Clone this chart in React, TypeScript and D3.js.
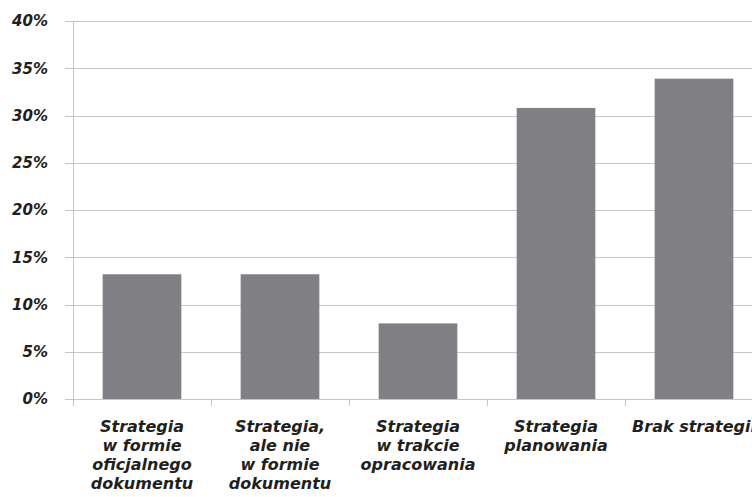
import React, { useEffect, useRef } from 'react';
import * as d3 from 'd3';

const categories = ['c1', 'c2', 'c3', 'c4', 'c5'];
const labels = [
  ['Strategia', 'w formie', 'oficjalnego', 'dokumentu'],
  ['Strategia,', 'ale nie', 'w formie', 'dokumentu'],
  ['Strategia', 'w trakcie', 'opracowania'],
  ['Strategia', 'planowania'],
  ['Brak strategii'],
];
const values = [13.2, 13.2, 8.0, 30.8, 33.9];
const yTicks = [0, 5, 10, 15, 20, 25, 30, 35, 40];

const App = () => {
  const ref = useRef<SVGSVGElement>(null);

  useEffect(() => {
    if (!ref.current) return;
    const svg = d3.select(ref.current);
    svg.selectAll('*').remove();

    const left = 73,
      right = 763,
      top = 21,
      bottom = 399;

    const x = d3.scaleBand().domain(categories).range([left, right]).paddingInner(0.43).paddingOuter(0.215);
    const band = d3.scaleBand().domain(categories).range([left, right]);
    const y = d3.scaleLinear().domain([0, 40]).range([bottom, top]);

    const font = "'DejaVu Sans', Verdana, sans-serif";
    const ink = '#231f20';

    // grid
    svg
      .selectAll('line.grid')
      .data(yTicks)
      .enter()
      .append('line')
      .attr('x1', left - 8)
      .attr('x2', 752)
      .attr('y1', (d) => Math.round(y(d)) + 0.5)
      .attr('y2', (d) => Math.round(y(d)) + 0.5)
      .attr('stroke', '#c6c6c6')
      .attr('stroke-width', 1);

    // y axis line
    svg
      .append('line')
      .attr('x1', left + 0.5)
      .attr('x2', left + 0.5)
      .attr('y1', top)
      .attr('y2', bottom + 7)
      .attr('stroke', '#c6c6c6');

    // category ticks
    svg
      .selectAll('line.ctick')
      .data(categories)
      .enter()
      .append('line')
      .attr('x1', (d) => Math.round(band(d)!) + 0.5)
      .attr('x2', (d) => Math.round(band(d)!) + 0.5)
      .attr('y1', bottom)
      .attr('y2', bottom + 7)
      .attr('stroke', '#c6c6c6');

    // bars
    svg
      .selectAll('rect.bar')
      .data(values)
      .enter()
      .append('rect')
      .attr('x', (d, i) => x(categories[i])!)
      .attr('y', (d) => y(d))
      .attr('width', x.bandwidth())
      .attr('height', (d) => bottom - y(d))
      .attr('fill', '#808084');

    // y labels
    svg
      .selectAll('text.ylab')
      .data(yTicks)
      .enter()
      .append('text')
      .attr('x', 48)
      .attr('y', (d) => y(d))
      .attr('dy', '0.36em')
      .attr('text-anchor', 'end')
      .attr('font-family', font)
      .attr('font-size', 15)
      .attr('font-weight', 'bold')
      .attr('font-style', 'italic')
      .attr('fill', ink)
      .text((d) => d + '%');

    // x labels
    categories.forEach((c, i) => {
      const cx = band(c)! + band.bandwidth() / 2;
      const t = svg
        .append('text')
        .attr('x', cx)
        .attr('y', 432)
        .attr('text-anchor', 'middle')
        .attr('font-family', font)
        .attr('font-size', 16)
        .attr('font-weight', 'bold')
        .attr('font-style', 'italic')
        .attr('fill', ink);
      labels[i].forEach((l, j) => {
        t.append('tspan').attr('x', cx).attr('dy', j === 0 ? 0 : 19).text(l);
      });
    });
  }, []);

  return (
    <svg
      ref={ref}
      width={752}
      height={497}
      style={{ position: 'absolute', left: 0, top: 0, background: '#fff' }}
    />
  );
};

export default App;
